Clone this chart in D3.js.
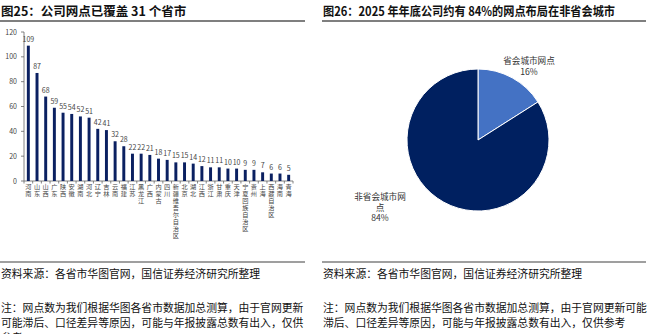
<!DOCTYPE html>
<html lang="zh">
<head>
<meta charset="UTF-8">
<title>华图网点</title>
<script src="https://d3js.org/d3.v7.min.js"></script>
<style>
  body{ margin:0; background:#fff; font-family:"Noto Sans CJK SC", sans-serif; }
  svg text{ font-family:"Noto Sans CJK SC", sans-serif; }
  .cat{ writing-mode: vertical-rl; text-orientation: upright; }
</style>
</head>
<body>
<svg width="648" height="334"></svg>
<script>
// ---- data
const provinces = ["河南","山东","山西","广东","陕西","安徽","湖南","河北","辽宁","吉林","云南","福建","江苏","黑龙江","广西","内蒙古","四川","新疆维吾尔自治区","北京","湖北","江西","浙江","甘肃","重庆","天津","宁夏回族自治区","贵州","上海","西藏自治区","海南","青海"];
const outlets = [109,87,68,59,55,54,52,51,42,41,32,28,22,22,21,18,17,15,15,14,12,11,11,10,10,9,9,7,6,6,5];
const yTicks = [0,20,40,60,80,100,120];

const pieLabels = ["省会城市网点","非省会城市网点"];
const pieShares = [16,84];

const titleLeft = "图25：公司网点已覆盖 31 个省市";
const titleRight = "图26：2025 年年底公司约有 84%的网点布局在非省会城市";
const source = "资料来源：各省市华图官网，国信证券经济研究所整理";
const noteLeft = ["注：网点数为我们根据华图各省市数据加总测算，由于官网更新","可能滞后、口径差异等原因，可能与年报披露总数有出入，仅供","参考"];
const noteRight = ["注：网点数为我们根据华图各省市数据加总测算，由于官网更新可能","滞后、口径差异等原因，可能与年报披露总数有出入，仅供参考"];

const svg = d3.select("svg");
const navy = "#0b2061";

// ---- panel frames: titles, rules, source, notes
function frame(x0, x1, title, titleLen, note){
  const tt = svg.append("text").attr("x", x0 + 1).attr("y", 16)
    .attr("font-size", 12.5).attr("font-weight", "bold").attr("fill", "#111")
    .text(title);
  if (titleLen) tt.attr("textLength", titleLen).attr("lengthAdjust", "spacingAndGlyphs");
  svg.append("line").attr("x1", x0).attr("x2", x1).attr("y1", 21).attr("y2", 21)
    .attr("stroke", "#000").attr("stroke-width", 1.2);
  svg.append("line").attr("x1", x0).attr("x2", x1).attr("y1", 262).attr("y2", 262)
    .attr("stroke", "#7f7f7f").attr("stroke-width", 1.5);
  svg.append("text").attr("x", x0 + 1).attr("y", 278)
    .attr("font-size", 10.8).attr("fill", "#111").text(source);
  note.forEach((t, i) => {
    svg.append("text").attr("x", x0 + 1).attr("y", 312 + i * 15)
      .attr("font-size", 10.8).attr("fill", "#111").text(t);
  });
}
frame(0, 305, titleLeft, null, noteLeft);
frame(322, 646, titleRight, 292, noteRight);

// ---- bar chart
const x = d3.scaleBand().domain(provinces).range([24, 293]).paddingInner(0.66).paddingOuter(0.33);
const y = d3.scaleLinear().domain([0, 120]).range([181, 32]);

const g = svg.append("g");
g.append("line").attr("x1", 24).attr("x2", 24).attr("y1", y(120)).attr("y2", y(0))
  .attr("stroke", "#666").attr("stroke-width", 0.8);
g.append("line").attr("x1", 24).attr("x2", 293).attr("y1", y(0)).attr("y2", y(0))
  .attr("stroke", "#666").attr("stroke-width", 0.8);

g.selectAll(".yt").data(yTicks).enter().append("text")
  .attr("x", 17).attr("y", d => y(d) + 2.5)
  .attr("text-anchor", "end").attr("font-size", 7).attr("fill", "#444")
  .text(d => d);
g.selectAll(".ytick").data(yTicks).enter().append("line")
  .attr("x1", 21).attr("x2", 24).attr("y1", d => y(d)).attr("y2", d => y(d))
  .attr("stroke", "#666").attr("stroke-width", 0.8);

const step = x.step();
g.selectAll(".xtick").data(d3.range(provinces.length + 1)).enter().append("line")
  .attr("x1", i => 24 + i * step).attr("x2", i => 24 + i * step)
  .attr("y1", y(0)).attr("y2", y(0) + 2.5)
  .attr("stroke", "#666").attr("stroke-width", 0.8);

g.selectAll("rect").data(outlets).enter().append("rect")
  .attr("x", (d, i) => x(provinces[i]))
  .attr("y", d => y(d))
  .attr("width", x.bandwidth())
  .attr("height", d => y(0) - y(d))
  .attr("fill", navy);

g.selectAll(".val").data(outlets).enter().append("text")
  .attr("x", (d, i) => x(provinces[i]) + x.bandwidth() / 2)
  .attr("y", d => y(d) - 4)
  .attr("text-anchor", "middle").attr("font-size", 7).attr("fill", "#444")
  .text(d => d);

// vertical category labels (upright stacked characters)
g.selectAll(".cat").data(provinces).enter().append("text")
  .attr("class", "cat")
  .attr("x", d => x(d) + x.bandwidth() / 2)
  .attr("y", 184)
  .attr("font-size", 6.2).attr("fill", "#444")
  .attr("letter-spacing", 0.8)
  .text(d => d);

// ---- pie chart
const cx = 478, cy = 140, r = 71;
const pie = d3.pie().sort(null).value(d => d)(pieShares);
const arc = d3.arc().innerRadius(0).outerRadius(r);
const colors = ["#4472c4", "#002060"];
const pg = svg.append("g").attr("transform", `translate(${cx},${cy})`);
pg.selectAll("path").data(pie).enter().append("path")
  .attr("d", arc)
  .attr("fill", (d, i) => colors[i])
  .attr("stroke", "#fff").attr("stroke-width", 1);

const pieText = [
  {lines: [pieLabels[0], pieShares[0] + "%"], x: 529, y: 64},
  {lines: ["非省会城市网", "点", pieShares[1] + "%"], x: 380, y: 200}
];
pieText.forEach(p => {
  p.lines.forEach((l, k) => svg.append("text")
    .attr("x", p.x).attr("y", p.y + k * 10.5)
    .attr("font-size", 8.6).attr("fill", "#333").attr("text-anchor", "middle")
    .text(l));
});
</script>
</body>
</html>
